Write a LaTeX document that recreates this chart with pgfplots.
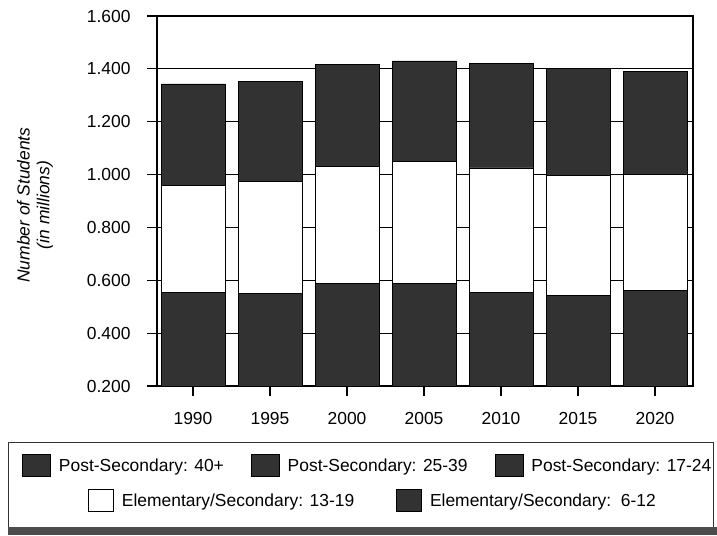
\documentclass[border=0pt]{standalone}
\usepackage{fontspec}
\setmainfont{Liberation Sans}
\usepackage{pgfplots}
\pgfplotsset{compat=1.18}
\definecolor{dark}{RGB}{50,50,50}
\newcommand{\fs}{\fontsize{17.5}{21}\selectfont}
\begin{document}
\begin{tikzpicture}[x=1bp,y=1bp]
\path (0,0) rectangle (717,-536);
\begin{axis}[
  at={(157bp,-386bp)}, anchor=south west,
  scale only axis, width=536bp, height=370bp,
  ybar stacked, bar width=64bp,
  xmin=-0.4675, xmax=6.4935, ymin=0.2, ymax=1.6,
  xtick={0,1,2,3,4,5,6},
  xticklabels={1990,1995,2000,2005,2010,2015,2020},
  ytick={0.2,0.4,0.6,0.8,1.0,1.2,1.4,1.6},
  yticklabel={\pgfmathprintnumber[fixed,fixed zerofill,precision=3]{\tick}},
  /pgf/number format/assume math mode=true,
  tick align=outside, major tick length=10bp,
  tick pos=left,
  ymajorgrids, grid style={black, line width=1pt},
  axis line style={black, line width=1.2pt},
  tick style={black, line width=1.2pt},
  ticklabel style={font=\fs},
  xticklabel style={yshift=-13bp},
  yticklabel style={xshift=-13bp},
  ylabel={Number of Students\\(in millions)},
  ylabel style={font=\fontsize{17.5}{20}\selectfont\itshape, align=center,
    at={(axis description cs:-0.2276,0.489)}, anchor=center},
]
% Elementary/Secondary: 6-12
\addplot[fill=dark, draw=black, line width=0.8pt] coordinates
  {(0,0.555) (1,0.551) (2,0.589) (3,0.587) (4,0.555) (5,0.542) (6,0.560)};
% Elementary/Secondary: 13-19
\addplot[fill=white, draw=black, line width=0.8pt] coordinates
  {(0,0.403) (1,0.423) (2,0.442) (3,0.462) (4,0.470) (5,0.454) (6,0.442)};
% Post-Secondary (17-24, 25-39, 40+ combined, same shading)
\addplot[fill=dark, draw=black, line width=0.8pt] coordinates
  {(0,0.385) (1,0.377) (2,0.385) (3,0.381) (4,0.395) (5,0.404) (6,0.389)};
\end{axis}
% legend row 1
\begin{axis}[
  at={(0bp,-536bp)}, anchor=south west,
  scale only axis, width=717bp, height=536bp, hide axis,
  xmin=0, xmax=1, ymin=0, ymax=1,
  legend columns=3, legend cell align=left,
  legend image code/.code={\draw[#1] (0bp,-10bp) rectangle (28bp,12bp);},
  legend style={at={(0.03068,0.13246)}, anchor=west, draw=none, fill=none,
    inner sep=0pt, font=\fs, nodes={inner sep=0pt},
    /tikz/every odd column/.append style={column sep=8bp},
    /tikz/every even column/.append style={column sep=27bp}},
]
\addlegendimage{fill=dark, draw=black, line width=0.8pt}
\addlegendentry{Post-Secondary: 40+}
\addlegendimage{fill=dark, draw=black, line width=0.8pt}
\addlegendentry{Post-Secondary: 25-39}
\addlegendimage{fill=dark, draw=black, line width=0.8pt}
\addlegendentry{Post-Secondary: 17-24}
\end{axis}
% legend row 2
\begin{axis}[
  at={(0bp,-536bp)}, anchor=south west,
  scale only axis, width=717bp, height=536bp, hide axis,
  xmin=0, xmax=1, ymin=0, ymax=1,
  legend columns=2, legend cell align=left,
  legend image code/.code={\draw[#1] (0bp,-10bp) rectangle (25bp,12bp);},
  legend style={at={(0.1227,0.0672)}, anchor=west, draw=none, fill=none,
    inner sep=0pt, font=\fs, nodes={inner sep=0pt},
    /tikz/every odd column/.append style={column sep=8bp},
    /tikz/every even column/.append style={column sep=42bp}},
]
\addlegendimage{fill=white, draw=black, line width=0.8pt}
\addlegendentry{Elementary/Secondary: 13-19}
\addlegendimage{fill=dark, draw=black, line width=0.8pt}
\addlegendentry{Elementary/Secondary:\ \ 6-12}
\end{axis}
\draw[black!80, line width=1pt] (8,-442) rectangle (713,-527);
\fill[black!70] (8,-527) rectangle (717,-535);
\end{tikzpicture}
\end{document}
